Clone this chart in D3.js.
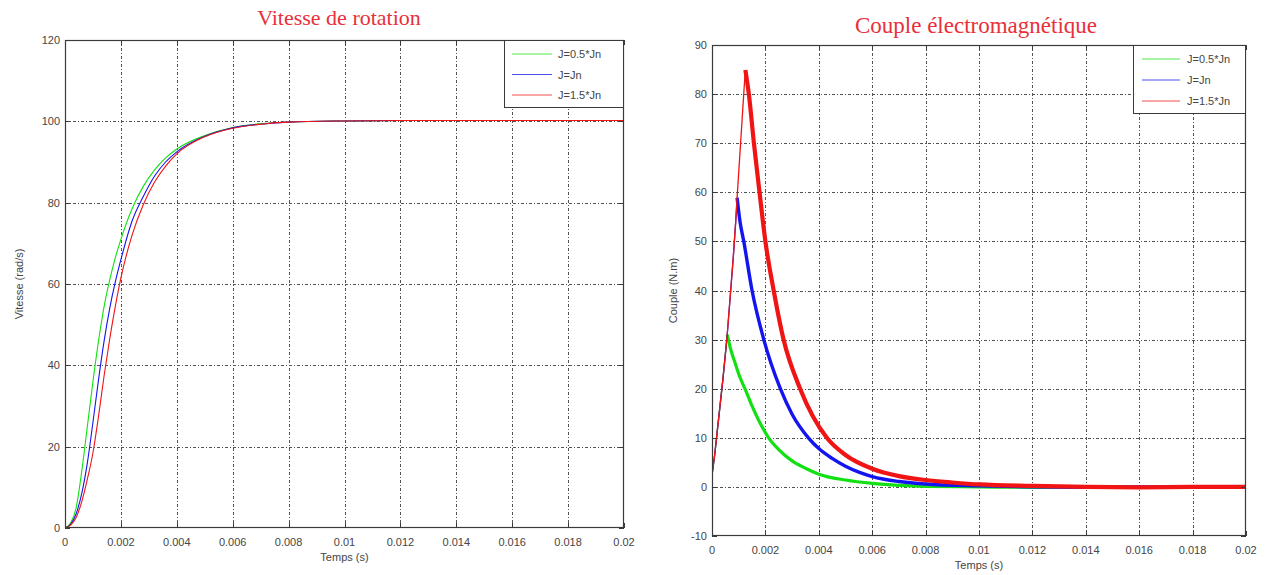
<!DOCTYPE html>
<html>
<head>
<meta charset="utf-8">
<script src="https://cdn.jsdelivr.net/npm/d3@7"></script>
<style>
  body { margin: 0; background: #ffffff; }
  svg { display: block; }
</style>
</head>
<body>
<svg id="fig" width="1266" height="575"></svg>
<script>
// ---- Shared axis data ----
const timeTicks = [0, 0.002, 0.004, 0.006, 0.008, 0.01, 0.012, 0.014, 0.016, 0.018, 0.02];
const timeTickLabels = ["0", "0.002", "0.004", "0.006", "0.008", "0.01", "0.012", "0.014", "0.016", "0.018", "0.02"];
const seriesNames = ["J=0.5*Jn", "J=Jn", "J=1.5*Jn"];
const seriesColors = ["#12e012", "#1414f0", "#f01414"];

// ---- Rotation speed (rad/s) ----
const speedTicks = [0, 20, 40, 60, 80, 100, 120];
const speedTime = [0, 0.0002, 0.0004, 0.0006, 0.0008, 0.001, 0.0012, 0.0014, 0.0016, 0.0018, 0.002,
  0.0024, 0.0028, 0.0032, 0.0036, 0.004, 0.005, 0.006, 0.007, 0.008, 0.01, 0.012, 0.014, 0.016, 0.018, 0.02];
const speedHalfJ = [0, 1.2, 5, 14, 25, 36, 46, 54.5, 61, 66.5, 71,
  78.5, 84, 88, 91, 93.2, 96.5, 98.5, 99.4, 99.8, 100.1, 100.2, 100.2, 100.2, 100.2, 100.2];
const speedNominalJ = [0, 0.9, 3.5, 8.5, 16, 26, 36.5, 46, 54, 60.5, 66,
  75.5, 81.5, 86.5, 90, 92.5, 96.3, 98.4, 99.3, 99.8, 100.1, 100.2, 100.2, 100.2, 100.2, 100.2];
const speedOneHalfJ = [0, 0.7, 2.6, 6.5, 12, 18.5, 27.5, 37.5, 46.5, 54.5, 61.5,
  72, 79.5, 85, 89, 92, 96.2, 98.3, 99.3, 99.8, 100.1, 100.2, 100.2, 100.2, 100.2, 100.2];

// ---- Electromagnetic torque (N.m) ----
const torqueTicks = [-10, 0, 10, 20, 30, 40, 50, 60, 70, 80, 90];
const torqueTimeHalfJ = [0, 0.0001, 0.0002, 0.0003, 0.0004, 0.0005, 0.00057, 0.0007, 0.00088, 0.001, 0.00125,
  0.0015, 0.0018, 0.00212, 0.0025, 0.003, 0.0035, 0.004, 0.005, 0.006, 0.007, 0.008, 0.01, 0.012, 0.014, 0.016, 0.018, 0.02];
const torqueHalfJ = [2.4, 6.5, 11.5, 16.5, 21.5, 27, 31, 28, 25, 23, 19.8,
  16.5, 13, 10, 7.6, 5.3, 3.8, 2.6, 1.4, 0.7, 0.3, 0.1, 0, -0.1, 0, -0.1, 0, 0];
const peakIndexHalfJ = 6;

const torqueTimeNominalJ = [0, 0.0001, 0.0002, 0.0003, 0.0004, 0.0005, 0.00057, 0.0007, 0.0008, 0.0009, 0.00094,
  0.00105, 0.00119, 0.0015, 0.00194, 0.00256, 0.003, 0.00361, 0.004, 0.0045, 0.005, 0.0055, 0.006, 0.007, 0.008,
  0.01, 0.012, 0.014, 0.016, 0.018, 0.02];
const torqueNominalJ = [2.4, 6.5, 11.5, 16.5, 21.5, 27, 31, 40, 47, 55, 58.9,
  54, 50, 40, 30, 20, 14.8, 10, 7.8, 5.8, 4.2, 3.0, 2.1, 1.1, 0.6,
  0.2, 0, -0.1, 0, -0.1, 0];
const peakIndexNominalJ = 10;

const torqueTimeOneHalfJ = [0, 0.0001, 0.0002, 0.0003, 0.0004, 0.0005, 0.00057, 0.0007, 0.0008, 0.0009, 0.00094,
  0.001, 0.0011, 0.0012, 0.00125, 0.00138, 0.00157, 0.00178, 0.002, 0.00231, 0.00268, 0.0033, 0.0043,
  0.005, 0.006, 0.007, 0.008, 0.009, 0.01, 0.012, 0.014, 0.016, 0.018, 0.02];
const torqueOneHalfJ = [2.4, 6.5, 11.5, 16.5, 21.5, 27, 31, 40, 47, 55, 58.9,
  64, 72.5, 81, 84.9, 80, 70, 60, 50, 40, 30, 20, 10,
  6.5, 3.7, 2.2, 1.4, 0.9, 0.5, 0.2, 0, -0.1, 0, 0];
const peakIndexOneHalfJ = 14;

const svg = d3.select("#fig");
const FONT = "'Liberation Sans', Arial, sans-serif";
const TITLE_FONT = "'Liberation Serif', 'DejaVu Serif', serif";

let clipCount = 0;

function drawPanel(cfg) {
  const { left, right, top, bottom } = cfg.box;
  const x = d3.scaleLinear().domain([0, 0.02]).range([left, right]);
  const y = d3.scaleLinear().domain(cfg.yDomain).range([bottom, top]);
  const g = svg.append("g");

  // plotting area
  g.append("rect").attr("x", left).attr("y", top)
    .attr("width", right - left).attr("height", bottom - top).attr("fill", "#ffffff");

  // dotted grid
  const grid = g.append("g").attr("stroke", "#2a2a2a").attr("stroke-width", 1)
    .attr("stroke-dasharray", "3,2,1,2").attr("opacity", 0.8);
  timeTicks.slice(1, -1).forEach(t => {
    grid.append("line").attr("x1", Math.round(x(t)) + 0.5).attr("x2", Math.round(x(t)) + 0.5)
      .attr("y1", top).attr("y2", bottom);
  });
  cfg.yTicks.slice(1, -1).forEach(v => {
    grid.append("line").attr("y1", Math.round(y(v)) + 0.5).attr("y2", Math.round(y(v)) + 0.5)
      .attr("x1", left).attr("x2", right);
  });

  // curves
  const clipId = "clip" + (clipCount++);
  g.append("clipPath").attr("id", clipId).append("rect")
    .attr("x", left).attr("y", top).attr("width", right - left).attr("height", bottom - top);
  const plot = g.append("g").attr("clip-path", `url(#${clipId})`);
  cfg.draw(plot, x, y);

  // frame with inward ticks on all sides
  g.append("rect").attr("x", left + 0.5).attr("y", top + 0.5)
    .attr("width", right - left - 1).attr("height", bottom - top - 1)
    .attr("fill", "none").attr("stroke", "#3a3a3a").attr("stroke-width", 1.2);
  const ticks = g.append("g").attr("stroke", "#3a3a3a").attr("stroke-width", 1);
  timeTicks.forEach(t => {
    const px = Math.round(x(t)) + 0.5;
    ticks.append("line").attr("x1", px).attr("x2", px).attr("y1", bottom).attr("y2", bottom - 5);
    ticks.append("line").attr("x1", px).attr("x2", px).attr("y1", top).attr("y2", top + 5);
  });
  cfg.yTicks.forEach(v => {
    const py = Math.round(y(v)) + 0.5;
    ticks.append("line").attr("y1", py).attr("y2", py).attr("x1", left).attr("x2", left + 5);
    ticks.append("line").attr("y1", py).attr("y2", py).attr("x1", right).attr("x2", right - 5);
  });

  // tick labels
  timeTicks.forEach((t, i) => {
    g.append("text").attr("x", x(t)).attr("y", bottom + 18)
      .attr("text-anchor", "middle").attr("font-family", FONT).attr("font-size", 11)
      .attr("fill", "#454545").text(timeTickLabels[i]);
  });
  cfg.yTicks.forEach(v => {
    g.append("text").attr("x", left - 5).attr("y", y(v) + 4)
      .attr("text-anchor", "end").attr("font-family", FONT).attr("font-size", 11)
      .attr("fill", "#454545").text(String(v));
  });

  // axis labels
  g.append("text").attr("x", (left + right) / 2).attr("y", bottom + 33)
    .attr("text-anchor", "middle").attr("font-family", FONT).attr("font-size", 11)
    .attr("fill", "#454545").text("Temps (s)");
  g.append("text")
    .attr("transform", `translate(${cfg.yLabelX},${(top + bottom) / 2}) rotate(-90)`)
    .attr("text-anchor", "middle").attr("font-family", FONT).attr("font-size", 11)
    .attr("fill", "#454545").text(cfg.yLabel);

  // title
  g.append("text").attr("x", cfg.titleX).attr("y", cfg.titleY)
    .attr("text-anchor", "middle").attr("font-family", TITLE_FONT).attr("font-size", cfg.titleSize)
    .attr("fill", "#e8303a").text(cfg.title);

  // legend
  const L = cfg.legend;
  const lg = g.append("g");
  lg.append("rect").attr("x", L.x + 0.5).attr("y", L.y + 0.5).attr("width", L.w).attr("height", L.h)
    .attr("fill", "#ffffff").attr("stroke", "#3a3a3a").attr("stroke-width", 1);
  seriesNames.forEach((name, i) => {
    const cy = L.y + L.first + i * L.step;
    lg.append("line").attr("x1", L.x + L.lineStart).attr("x2", L.x + L.lineEnd)
      .attr("y1", cy).attr("y2", cy).attr("stroke", seriesColors[i]).attr("stroke-width", 1).attr("opacity", 0.75);
    lg.append("text").attr("x", L.x + L.textStart).attr("y", cy + 4)
      .attr("font-family", FONT).attr("font-size", 11).attr("fill", "#454545").text(name);
  });
}

// ---- Left panel: rotation speed ----
const speedSeries = [speedHalfJ, speedNominalJ, speedOneHalfJ];
drawPanel({
  box: { left: 65, right: 624, top: 40, bottom: 528 },
  yDomain: [0, 120], yTicks: speedTicks,
  yLabel: "Vitesse (rad/s)", yLabelX: 23,
  title: "Vitesse de rotation", titleX: 339, titleY: 25, titleSize: 22,
  legend: { x: 504, y: 40, w: 119, h: 67, first: 14, step: 20.5, lineStart: 8, lineEnd: 48, textStart: 54 },
  draw: (plot, x, y) => {
    speedSeries.forEach((vals, i) => {
      const line = d3.line().x((d, k) => x(speedTime[k])).y(d => y(d)).curve(d3.curveMonotoneX);
      plot.append("path").datum(vals).attr("d", line).attr("fill", "none")
        .attr("stroke", seriesColors[i]).attr("stroke-width", 1.1);
    });
  }
});

// ---- Right panel: electromagnetic torque ----
const torqueSeries = [
  { t: torqueTimeHalfJ, v: torqueHalfJ, peak: peakIndexHalfJ, band: 3.2 },
  { t: torqueTimeNominalJ, v: torqueNominalJ, peak: peakIndexNominalJ, band: 3.4 },
  { t: torqueTimeOneHalfJ, v: torqueOneHalfJ, peak: peakIndexOneHalfJ, band: 4.2 }
];
drawPanel({
  box: { left: 712, right: 1246, top: 45, bottom: 536 },
  yDomain: [-10, 90], yTicks: torqueTicks,
  yLabel: "Couple (N.m)", yLabelX: 677,
  title: "Couple électromagnétique", titleX: 976, titleY: 33, titleSize: 23,
  legend: { x: 1133, y: 45, w: 112, h: 68, first: 14, step: 21, lineStart: 9, lineEnd: 47, textStart: 54 },
  draw: (plot, x, y) => {
    torqueSeries.forEach((s, i) => {
      const pts = s.v.map((v, k) => [s.t[k], v]);
      const rise = pts.slice(0, s.peak + 1);
      const decay = pts.slice(s.peak);
      // switching ripple after the peak shows as a thick band
      plot.append("path").datum(decay)
        .attr("d", d3.line().x(d => x(d[0])).y(d => y(d[1])).curve(d3.curveMonotoneX))
        .attr("fill", "none").attr("stroke", seriesColors[i]).attr("stroke-width", s.band)
        .attr("stroke-linejoin", "round");
      plot.append("path").datum(rise)
        .attr("d", d3.line().x(d => x(d[0])).y(d => y(d[1])))
        .attr("fill", "none").attr("stroke", seriesColors[i]).attr("stroke-width", 1.3);
    });
  }
});
</script>
</body>
</html>
